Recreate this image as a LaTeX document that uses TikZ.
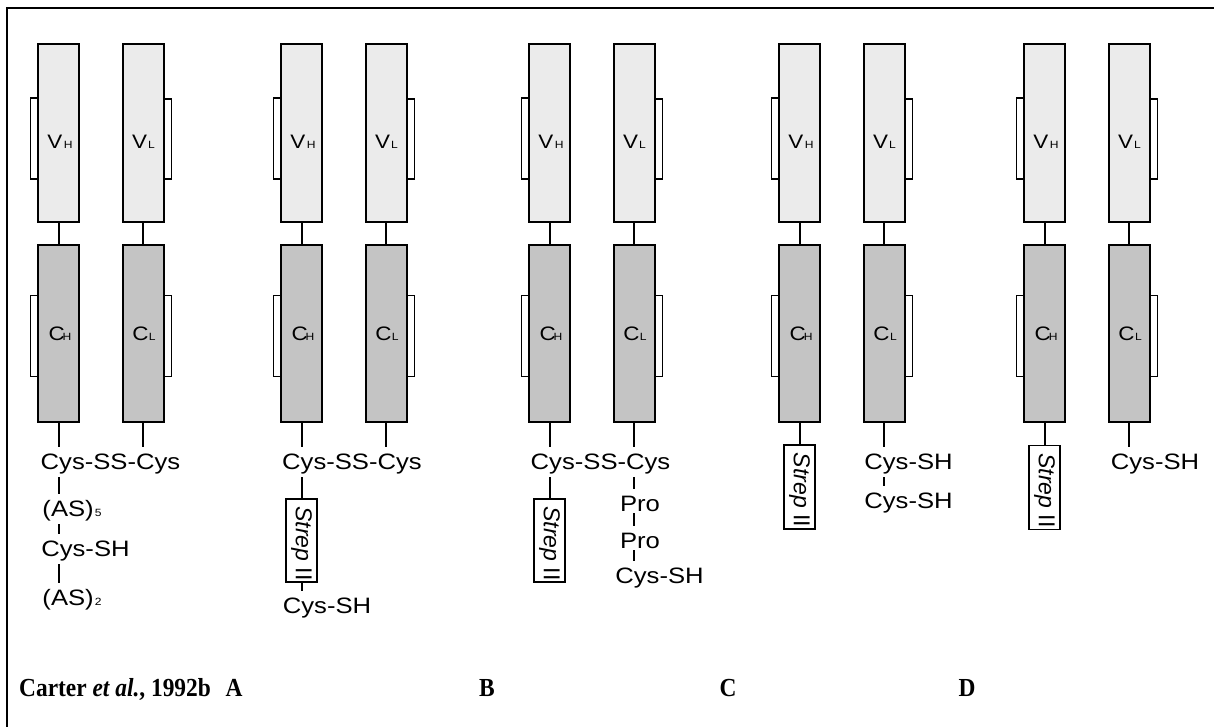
\documentclass[tikz,border=0pt]{standalone}
\usepackage{fontspec}
\setmainfont{Liberation Serif}
\newfontfamily\labfont[FakeStretch=1.15]{Liberation Sans}
\newfontfamily\strepfont{Liberation Sans}
\newfontfamily\capfont[FakeStretch=0.9]{Liberation Serif}
\definecolor{vfill}{HTML}{EBEBEB}
\definecolor{cfill}{HTML}{C4C4C4}
% domain label: big letter followed by a small index letter on the same baseline
\newcommand\domlab[3]{{\fontsize{19.5}{20}\selectfont #1}\kern#3{\fontsize{10.5}{11}\selectfont #2}}
\newcommand\smallidx[1]{\kern1pt{\fontsize{10.5}{11}\selectfont #1}}
\begin{document}
\begin{tikzpicture}[x=1pt,y=-1pt,
  chainbox/.style={draw=black, line width=2pt, minimum width=41pt, inner sep=0pt, outer sep=0pt},
  vdom/.style={chainbox, fill=vfill, minimum height=178pt},
  cdom/.style={chainbox, fill=cfill, minimum height=177pt},
  link/.style={line width=2pt},
  bracket/.style={line width=1.8pt},
  dlab/.style={anchor=base, inner sep=0pt, font=\labfont},
  lab/.style={font=\labfont\fontsize{22.3}{24}\selectfont, anchor=base, inner sep=0pt, outer sep=0pt, text height=22pt, text depth=8pt},
  prolab/.style={lab, text depth=2pt},
  strepbox/.style={draw=black, line width=1.8pt, fill=white, rotate=-90, minimum width=83pt, minimum height=31pt, inner sep=0pt, font=\strepfont\fontsize{23}{23}\selectfont},
  blab/.style={anchor=base, inner sep=0pt, font=\capfont\fontsize{26}{26}\selectfont\bfseries}]
\fill[white] (0,0) rectangle (1214,727);
\useasboundingbox (0,0) rectangle (1214,727);

% outer frame (top and left edges)
\draw[line width=2pt] (7,727) -- (7,8) -- (1214,8);

% heavy and light chain domains of each construct
\foreach \i/\xl in {1/37,2/280,3/528,4/778,5/1023} {
  \node[vdom] (vh\i) at (\xl+21.5,133) {};
  \node[vdom] (vl\i) at (\xl+106,133) {};
  \node[cdom] (ch\i) at (\xl+21.5,333.5) {};
  \node[cdom] (cl\i) at (\xl+106,333.5) {};
  \draw[link] (vh\i.south) -- (ch\i.north);
  \draw[link] (vl\i.south) -- (cl\i.north);
  % loops on the outer sides of the domains
  \draw[bracket] ([yshift=-54pt]vh\i.north west) -- ++(-7.5,0) -- ++(0,81) -- ++(7.5,0);
  \draw[bracket] ([yshift=-50.5pt]ch\i.north west) -- ++(-7.5,0) -- ++(0,81) -- ++(7.5,0);
  \draw[bracket] ([yshift=-55pt]vl\i.north east) -- ++(8,0) -- ++(0,80) -- ++(-8,0);
  \draw[bracket] ([yshift=-50.5pt]cl\i.north east) -- ++(8,0) -- ++(0,81) -- ++(-8,0);
  \node[dlab] at ([xshift=1.5pt,yshift=-16pt]vh\i.center) {\domlab{V}{H}{1.5pt}};
  \node[dlab] at ([xshift=0.5pt,yshift=-16pt]vl\i.center) {\domlab{V}{L}{1pt}};
  \node[dlab] at ([xshift=1.5pt,yshift=-7pt]ch\i.center) {\domlab{C}{H}{-2pt}};
  \node[dlab] at ([xshift=1pt,yshift=-7pt]cl\i.center) {\domlab{C}{L}{0.5pt}};
}

% construct 1: Carter et al.
\node[lab] (css1) at (110.5,469) {Cys-SS-Cys};
\node[lab] (as5) at (72,516) {(AS)\smallidx{5}};
\node[lab] (cys1) at (85.5,556) {Cys-SH};
\node[lab] (as2) at (72,605) {(AS)\smallidx{2}};
\draw[link] (ch1.south) -- (ch1.south |- css1.north);
\draw[link] (cl1.south) -- (cl1.south |- css1.north);
\draw[link] (ch1.south |- css1.south) -- (ch1.south |- as5.north);
\draw[link] (ch1.south |- as5.south) -- (ch1.south |- cys1.north);
\draw[link] (ch1.south |- cys1.south) -- (ch1.south |- as2.north);

% construct A
\node[lab] (css2) at (352,469) {Cys-SS-Cys};
\node[strepbox] (s2) at (301.5,540.5) {\hspace*{6pt}\textit{Strep} II};
\node[lab] (cys2) at (327,613) {Cys-SH};
\draw[link] (ch2.south) -- (ch2.south |- css2.north);
\draw[link] (cl2.south) -- (cl2.south |- css2.north);
\draw[link] (ch2.south |- css2.south) -- (s2.west);
\draw[link] (s2.east) -- (ch2.south |- cys2.north);

% construct B
\node[lab] (css3) at (600.5,469) {Cys-SS-Cys};
\node[strepbox] (s3) at (549.5,540.5) {\hspace*{6pt}\textit{Strep} II};
\node[prolab] (pro3a) at (640,511) {Pro};
\node[prolab] (pro3b) at (640,548) {Pro};
\node[lab] (cys3) at (659.5,583) {Cys-SH};
\draw[link] (ch3.south) -- (ch3.south |- css3.north);
\draw[link] (cl3.south) -- (cl3.south |- css3.north);
\draw[link] (ch3.south |- css3.south) -- (s3.west);
\draw[link] (cl3.south |- css3.south) -- (cl3.south |- pro3a.north);
\draw[link] (cl3.south |- pro3a.south) -- (cl3.south |- pro3b.north);
\draw[link] (cl3.south |- pro3b.south) -- (cl3.south |- cys3.north);

% construct C
\node[strepbox, minimum width=84pt] (s4) at (799.5,487) {\hspace*{6pt}\textit{Strep} II};
\node[lab] (cys4a) at (908.5,469) {Cys-SH};
\node[lab] (cys4b) at (908.5,508) {Cys-SH};
\draw[link] (ch4.south) -- (s4.west);
\draw[link] (cl4.south) -- (cl4.south |- cys4a.north);
\draw[link] (cl4.south |- cys4a.south) -- (cl4.south |- cys4b.north);

% construct D
\node[strepbox, minimum width=84pt] (s5) at (1044.5,487.5) {\hspace*{6pt}\textit{Strep} II};
\node[lab] (cys5) at (1155,469) {Cys-SH};
\draw[link] (ch5.south) -- (s5.west);
\draw[link] (cl5.south) -- (cl5.south |- cys5.north);

% captions
\node[blab, anchor=base west] (ref) at (19,696) {Carter \textit{et al.}, 1992b};
\node[blab] (capA) at (234,696) {A};
\node[blab] (capB) at (487,696) {B};
\node[blab] (capC) at (728,696) {C};
\node[blab] (capD) at (967,696) {D};
\end{tikzpicture}
\end{document}
